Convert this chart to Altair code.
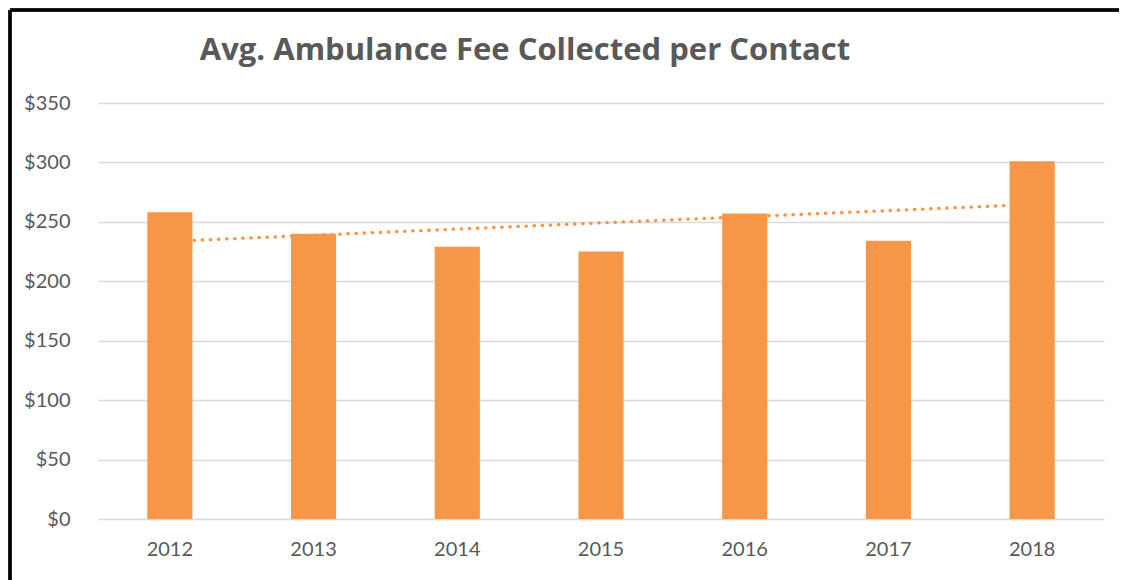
import altair as alt
import pandas as pd

years = [2012, 2013, 2014, 2015, 2016, 2017, 2018]
fees = [258, 240, 229, 225, 257, 234, 301]
title_text = ["Avg. Ambulance Fee Collected per Contact"]

df = pd.DataFrame({"Year": years, "Fee": fees})
tdf = pd.DataFrame({"t": title_text})

W, H = 1006, 416
PAD_L, PAD_T = 90, 95

base = alt.Chart(df)

xenc = alt.X("Year:O", title=None,
             scale=alt.Scale(paddingInner=0.686, paddingOuter=0.343),
             axis=alt.Axis(labelAngle=0, labelFont="Lato", labelFontSize=20,
                           labelColor="#595959", labelPadding=20, ticks=False,
                           domain=False, grid=False))
yenc = alt.Y("Fee:Q", title=None,
             scale=alt.Scale(domain=[0, 350], nice=False),
             axis=alt.Axis(values=[0, 50, 100, 150, 200, 250, 300, 350],
                           labelExpr="'$' + datum.value", labelFont="Lato",
                           labelFontSize=20, labelColor="#595959", labelPadding=28,
                           ticks=False, domain=False, gridColor="#d9d9d9",
                           gridWidth=1.5))

trend = base.transform_regression("Year", "Fee").mark_line(
    color="#F79646", strokeWidth=3.3, strokeCap="round", strokeDash=[0.5, 7.6]
).encode(x=xenc, y=yenc)

bars = base.mark_bar(color="#F79646").encode(x=xenc, y=yenc)

frame_left = base.mark_rule(color="black", strokeWidth=2.5).encode(
    x=alt.value(-PAD_L + 2), y=alt.value(-PAD_T + 2), y2=alt.value(H + 100))
frame_top = base.mark_rule(color="black", strokeWidth=2.5).encode(
    x=alt.value(-PAD_L + 2), x2=alt.value(W + 40), y=alt.value(-PAD_T + 2))

title = alt.Chart(tdf).mark_text(
    font="Open Sans", fontSize=31, fontWeight="bold", color="#595959",
    align="center", baseline="alphabetic"
).encode(text="t:N", x=alt.value(427), y=alt.value(-43))

chart = alt.layer(frame_left, frame_top, trend, bars, title).properties(
    width=W, height=H,
    padding={"left": PAD_L, "top": PAD_T, "right": 15, "bottom": 70},
    autosize=alt.AutoSizeParams(type="none"),
).configure(background="white", view=alt.ViewConfig(stroke=None))

chart.save("out.html", embed_options={"renderer": "svg", "actions": False})
